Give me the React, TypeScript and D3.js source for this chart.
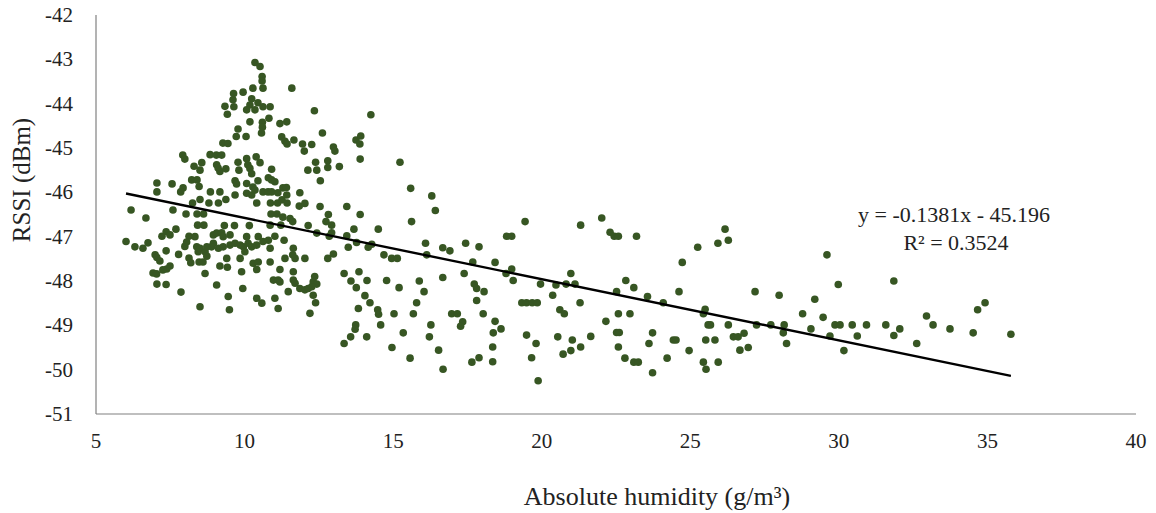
import React from 'react';
import * as d3 from 'd3';

// Absolute humidity (g/m³) vs RSSI (dBm), grouped by humidity band
const pointsBelow8: [number, number][] = [
  [7.92, -45.16], [7.99, -45.25], [7.05, -45.79], [7.56, -45.81], [7.05, -45.99], [7.93, -45.9],
  [7.85, -45.99], [6.18, -46.4], [6.68, -46.58], [7.59, -46.4], [8.03, -46.49], [7.22, -46.99],
  [7.36, -46.89], [7.49, -46.96], [7.69, -46.83], [8.13, -46.99], [6.01, -47.11], [6.31, -47.23],
  [6.58, -47.26], [6.75, -47.14], [7.36, -47.32], [7.78, -47.4], [7.99, -47.22], [8.05, -47.12],
  [6.99, -47.41], [7.05, -47.47], [7.15, -47.55], [7.49, -47.66], [7.38, -47.73], [7.25, -47.75],
  [6.92, -47.82], [7.04, -47.84], [7.05, -48.07], [7.36, -48.08], [7.86, -48.25], [8.13, -47.48],
  [8.19, -47.59],
];

const points8to12Upper: [number, number][] = [
  [10.35, -43.07], [10.52, -43.16], [10.59, -43.39], [10.59, -43.49], [10.62, -43.65], [10.28, -43.65],
  [9.95, -43.74], [9.63, -43.77], [9.61, -43.91], [10.24, -43.89], [10.45, -43.98], [10.18, -44.03],
  [10.62, -44.07], [10.86, -44.07], [10.07, -44.14], [10.35, -44.14], [9.34, -44.06], [9.64, -44.07],
  [9.42, -44.24], [10.18, -44.41], [10.6, -44.42], [10.82, -44.33], [10.6, -44.53], [10.57, -44.66],
  [11.19, -44.45], [11.42, -44.41], [9.78, -44.57], [9.72, -44.74], [10.05, -44.74], [11.25, -44.75],
  [11.36, -44.85], [11.43, -44.91], [11.66, -44.82], [11.95, -44.91], [12.01, -45.07], [9.27, -44.89],
  [9.44, -44.9], [11.59, -43.65], [12.35, -44.16], [8.84, -45.15], [9.05, -45.16], [9.23, -45.16],
  [8.56, -45.33], [8.3, -45.41], [9.06, -45.38], [9.11, -45.45], [9.37, -45.47], [9.17, -45.53],
  [8.5, -45.5], [9.78, -45.32], [10.07, -45.24], [10.39, -45.2], [10.52, -45.33], [9.81, -45.5],
  [10.11, -45.38], [10.18, -45.46], [10.24, -45.58], [10.91, -45.48], [12.13, -45.5], [8.22, -45.72],
  [8.4, -45.72], [8.47, -45.87], [9.68, -45.74], [9.73, -45.81], [10.07, -45.8], [10.28, -45.88],
  [10.45, -45.74], [10.8, -45.67], [10.91, -45.72], [11.02, -45.76], [11.29, -45.9], [11.41, -45.89],
  [8.85, -45.99], [9.17, -45.99], [9.68, -46.06], [10.07, -46.02], [10.24, -46.06], [10.35, -45.95],
  [10.62, -45.99], [10.79, -45.99], [10.91, -45.99], [11.12, -46.01], [11.42, -46.06], [11.86, -46.01],
  [8.25, -46.24], [8.5, -46.16], [8.8, -46.24], [9.12, -46.24], [9.37, -46.16], [10.41, -46.24],
  [10.87, -46.24], [11.11, -46.24], [11.26, -46.17], [11.43, -46.24], [11.84, -46.31], [12.03, -46.25],
  [8.4, -46.49], [8.62, -46.49], [10.89, -46.49], [11.09, -46.49], [11.29, -46.56], [11.53, -46.59],
  [11.62, -46.66], [8.42, -46.74], [8.63, -46.74], [9.32, -46.75], [9.66, -46.75], [10.16, -46.75],
  [10.86, -46.74], [11.22, -46.74],
];

const points8to12Lower: [number, number][] = [
  [8.95, -46.96], [9.06, -46.92], [9.23, -46.91], [9.28, -47.0], [9.51, -46.96], [8.95, -47.15],
  [8.89, -47.23], [9.12, -47.26], [9.28, -47.23], [9.51, -47.19], [9.68, -47.15], [9.85, -47.19],
  [9.96, -47.23], [10.12, -47.15], [10.24, -47.23], [10.41, -47.19], [10.46, -47.0], [10.07, -47.0],
  [10.8, -47.08], [10.86, -47.26], [11.02, -46.99], [11.33, -47.08], [8.33, -47.0], [8.39, -47.23],
  [8.5, -47.26], [8.44, -47.34], [8.67, -47.34], [8.73, -47.23], [10.62, -47.11], [8.47, -47.57],
  [8.6, -47.57], [8.73, -47.44], [9.17, -47.66], [9.42, -47.69], [9.4, -47.49], [9.85, -47.49],
  [9.9, -47.79], [10.29, -47.6], [10.41, -47.74], [10.46, -47.57], [10.86, -47.57], [11.19, -47.74],
  [11.36, -47.49], [11.64, -47.26], [11.7, -47.49], [11.62, -47.41], [12.03, -47.49], [10.01, -47.34],
  [8.67, -47.83], [9.06, -48.09], [9.94, -48.17], [9.45, -48.35], [9.49, -48.65], [8.5, -48.58],
  [10.41, -48.39], [10.58, -48.5], [11.02, -48.39], [11.13, -48.62], [10.97, -47.98], [11.13, -47.98],
  [11.64, -47.79], [11.64, -47.98], [11.7, -48.05], [11.47, -48.24], [11.86, -48.17], [12.03, -48.2],
  [12.14, -48.17], [12.2, -48.73],
];

const points12to18: [number, number][] = [
  [14.25, -44.25], [12.62, -44.66], [12.26, -44.92], [12.99, -44.98], [13.04, -45.07], [13.75, -44.82],
  [13.91, -44.73], [13.88, -44.91], [13.89, -45.25], [12.39, -45.32], [12.43, -45.5], [12.8, -45.29],
  [12.8, -45.44], [13.19, -45.42], [12.55, -45.74], [15.23, -45.32], [15.59, -45.91], [16.3, -46.08],
  [16.42, -46.41], [12.54, -46.32], [13.44, -46.32], [13.89, -46.5], [12.82, -46.5], [12.74, -46.66],
  [12.93, -46.74], [12.14, -46.75], [12.43, -46.92], [12.85, -46.99], [12.93, -46.91], [13.44, -46.98],
  [13.68, -46.83], [14.5, -46.83], [15.62, -46.66], [13.49, -47.24], [13.77, -47.13], [14.16, -47.24],
  [14.28, -47.17], [12.8, -47.49], [12.99, -47.39], [14.69, -47.41], [14.95, -47.49], [15.14, -47.49],
  [16.09, -47.15], [16.13, -47.41], [16.67, -47.25], [16.91, -47.32], [17.44, -47.15], [17.89, -47.23],
  [17.68, -47.57], [11.19, -48.02], [13.35, -47.83], [13.85, -47.79], [13.58, -48.0], [14.12, -47.99],
  [13.76, -48.15], [12.36, -47.9], [12.31, -48.02], [12.43, -48.07], [12.26, -48.13], [12.31, -48.32],
  [12.39, -48.49], [14.78, -47.99], [15.2, -48.15], [15.88, -48.0], [16.04, -48.24], [16.67, -47.92],
  [17.39, -47.83], [17.73, -48.07], [17.81, -48.17], [17.81, -48.44], [15.79, -48.49], [14.05, -48.33],
  [14.22, -48.49], [13.83, -48.62], [14.48, -48.65], [14.51, -48.75], [15.03, -48.74], [15.68, -48.74],
  [16.97, -48.74], [17.16, -48.74], [17.34, -48.92], [17.27, -49.02], [16.27, -48.99], [13.74, -48.99],
  [13.72, -49.09], [13.57, -49.26], [14.58, -48.99], [14.11, -49.26], [15.34, -49.17], [16.22, -49.26],
  [13.35, -49.41], [14.96, -49.5], [16.53, -49.56], [15.57, -49.74], [16.68, -49.99], [17.65, -49.83],
  [17.89, -49.73],
];

const points18to27: [number, number][] = [
  [19.44, -46.66], [18.82, -46.99], [18.99, -46.99], [22.02, -46.58], [21.31, -46.74], [22.3, -46.9],
  [22.44, -46.99], [22.58, -46.99], [23.19, -46.99], [18.43, -47.58], [18.99, -47.73], [18.8, -47.83],
  [19.04, -47.99], [25.25, -47.24], [24.73, -47.58], [25.93, -47.15], [26.17, -46.83], [26.28, -47.08],
  [20.98, -47.83], [21.12, -48.07], [20.82, -48.07], [20.48, -48.09], [19.96, -48.07], [18.06, -48.24],
  [20.37, -48.32], [21.29, -48.49], [19.33, -48.49], [19.49, -48.49], [19.68, -48.49], [19.85, -48.49],
  [22.83, -47.99], [23.1, -48.15], [22.52, -48.24], [23.56, -48.35], [24.09, -48.49], [24.62, -48.24],
  [25.5, -48.64], [25.44, -48.74], [20.61, -48.65], [20.76, -48.74], [18.03, -48.74], [22.58, -48.74],
  [22.97, -48.74], [22.16, -48.91], [18.43, -48.91], [18.63, -49.08], [18.37, -49.17], [19.49, -49.22],
  [19.81, -49.41], [20.54, -49.26], [21.03, -49.33], [21.65, -49.25], [22.52, -49.16], [22.61, -49.16],
  [23.73, -49.17], [25.6, -48.99], [25.68, -48.99], [26.28, -48.99], [24.43, -49.33], [24.52, -49.33],
  [25.52, -49.33], [25.83, -49.33], [23.61, -49.41], [22.58, -49.49], [18.35, -49.49], [18.35, -49.82],
  [19.66, -49.73], [20.98, -49.57], [20.72, -49.65], [21.31, -49.49], [22.8, -49.74], [23.1, -49.83],
  [23.25, -49.83], [24.22, -49.74], [24.96, -49.57], [25.44, -49.83], [25.53, -49.99], [25.94, -49.83],
  [23.73, -50.07], [19.88, -50.25],
];

const pointsAbove27: [number, number][] = [
  [29.6, -47.41], [27.18, -48.24], [27.99, -48.32], [29.98, -48.08], [31.85, -48.0], [29.19, -48.41],
  [28.78, -48.74], [29.47, -48.82], [27.23, -48.99], [27.71, -48.99], [28.16, -48.99], [28.13, -49.17],
  [28.24, -49.41], [26.45, -49.26], [26.61, -49.26], [26.81, -49.18], [26.67, -49.56], [26.95, -49.5],
  [29.06, -49.08], [29.7, -49.24], [29.87, -48.99], [30.04, -48.99], [30.17, -49.57], [30.45, -48.99],
  [30.62, -49.24], [30.93, -48.99], [31.58, -48.99], [31.85, -49.23], [32.05, -49.08], [32.62, -49.41],
  [32.95, -48.79], [33.17, -48.99], [33.74, -49.08], [34.52, -49.17], [34.67, -48.65], [34.92, -48.49],
  [35.79, -49.2],
];

const xTicks = [5, 10, 15, 20, 25, 30, 35, 40];
const yTicks = [-51, -50, -49, -48, -47, -46, -45, -44, -43, -42];
const slope = -0.1381;
const intercept = -45.196;
const equationLabel = 'y = -0.1381x - 45.196';
const r2Label = 'R² = 0.3524';

const W = 1156;
const H = 513;
const FONT = '"Liberation Serif", "Times New Roman", serif';

export default function App() {
  const points = [
    ...pointsBelow8, ...points8to12Upper, ...points8to12Lower,
    ...points12to18, ...points18to27, ...pointsAbove27,
  ];

  const x = d3.scaleLinear().domain([5, 40]).range([96, 1136]);
  const y = d3.scaleLinear().domain([-51, -42]).range([414, 15]);

  const [xMin, xMax] = d3.extent(points, d => d[0]) as [number, number];
  const trend = d3.line<number>()
    .x(d => x(d))
    .y(d => y(slope * d + intercept));

  return (
    <svg width={W} height={H} style={{ position: 'absolute', left: 0, top: 0, background: '#fff' }}>
      {/* axes */}
      <line x1={x(5)} x2={x(5)} y1={y(-42)} y2={y(-51)} stroke="#808080" strokeWidth={1.2} />
      <line x1={x(5)} x2={x(40)} y1={y(-51)} y2={y(-51)} stroke="#808080" strokeWidth={1.2} />

      {yTicks.map(t => (
        <text key={t} x={73} y={y(t)} dy="0.34em" textAnchor="end"
          fontFamily={FONT} fontSize={21} fill="#222">{t}</text>
      ))}
      {xTicks.map(t => (
        <text key={t} x={x(t)} y={448} textAnchor="middle"
          fontFamily={FONT} fontSize={21} fill="#222">{t}</text>
      ))}

      {/* points */}
      {points.map((d, i) => (
        <circle key={i} cx={x(d[0])} cy={y(d[1])} r={3.8} fill="#375623" />
      ))}

      {/* linear trendline */}
      <path d={trend([xMin, xMax]) ?? ''} fill="none" stroke="#000" strokeWidth={2.4} />

      <text x={954} y={222} textAnchor="middle" fontFamily={FONT} fontSize={22} fill="#222">{equationLabel}</text>
      <text x={956} y={250} textAnchor="middle" fontFamily={FONT} fontSize={22} fill="#222">{r2Label}</text>

      {/* titles */}
      <text transform={`translate(30, 180) rotate(-90)`} textAnchor="middle"
        fontFamily={FONT} fontSize={25} fill="#222">RSSI (dBm)</text>
      <text x={657} y={505} textAnchor="middle" fontFamily={FONT} fontSize={26} fill="#222">Absolute humidity (g/m³)</text>
    </svg>
  );
}
